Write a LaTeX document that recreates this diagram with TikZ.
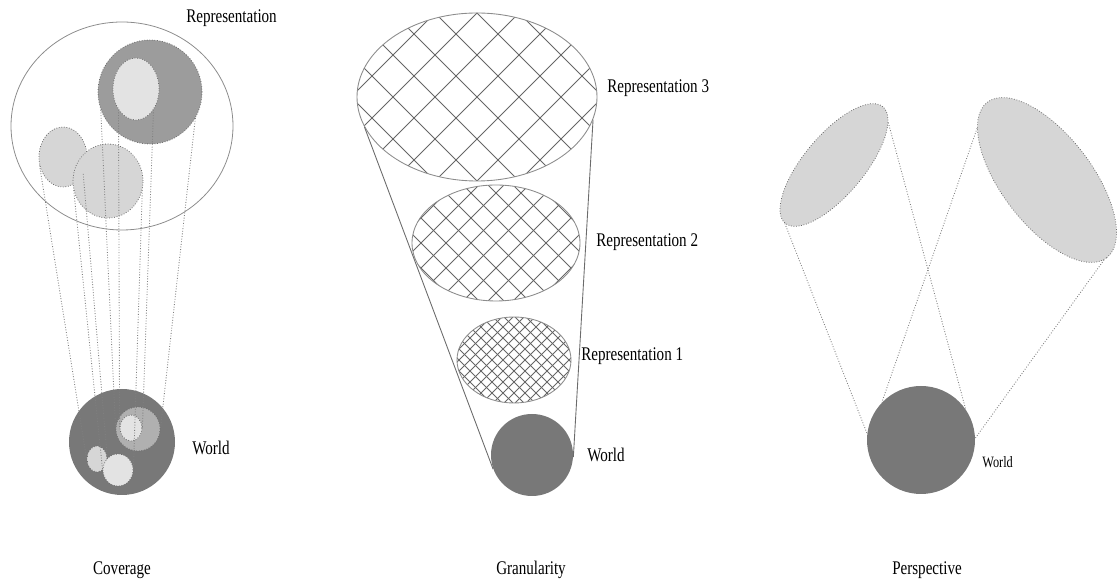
\documentclass[tikz,border=0pt]{standalone}
\usepackage{fontspec}
\setmainfont{Liberation Serif}
\usepackage{graphicx}
\usetikzlibrary{shapes.geometric}
\newlength\px \setlength\px{0.02cm}
\newcommand{\cond}[1]{\scalebox{0.78}[1]{#1}}
\definecolor{edgegray}{gray}{0.42}
\definecolor{rimgray}{gray}{0.55}
\definecolor{linkgray}{gray}{0.5}
\definecolor{hatchgray}{gray}{0.4}
\definecolor{worldfill}{gray}{0.47}
\definecolor{darkfill}{gray}{0.61}
\definecolor{ringfill}{gray}{0.69}
\definecolor{lightfill}{gray}{0.84}
\definecolor{palefill}{gray}{0.89}
\begin{document}
\begin{tikzpicture}[x=0.02cm, y=0.02cm,
  blob/.style={ellipse, inner sep=0pt, draw=edgegray, densely dotted, line width=0.45pt},
  gblob/.style={ellipse, inner sep=0pt, draw=rimgray, line width=0.5pt},
  link/.style={draw=linkgray, densely dotted, line width=0.5pt},
  cone/.style={draw=edgegray, line width=0.5pt},
  lbl/.style={font=\fontsize{11}{13}\selectfont, inner sep=0pt},
  hatchline/.style={draw=hatchgray, solid, line width=0.5pt},
  crosshatch/.style={path picture={
    \foreach \k in {-12,...,12} {
      \draw[hatchline] ([shift={(\k*#1,0)}]path picture bounding box.center) ++(-150,-150) -- ++(300,300);
      \draw[hatchline] ([shift={(\k*#1,0)}]path picture bounding box.center) ++(-150,150) -- ++(300,-300);
    }}}]
  \useasboundingbox (0,0) rectangle (1117,581);
  % coverage: representation
  \node[blob, solid, draw=rimgray, minimum width=222\px, minimum height=208\px] (covRep) at (122,455) {};
  \node[blob, fill=darkfill, minimum width=104\px, minimum height=104\px] (covDark) at (150,489) {};
  \node[blob, fill=palefill, minimum width=46\px, minimum height=62\px] (covInner) at (136,492) {};
  \node[blob, fill=lightfill, minimum width=48\px, minimum height=60\px] (covLeft) at (63,424) {};
  \node[blob, fill=lightfill, minimum width=70\px, minimum height=74\px] (covMid) at (108,400) {};
  % coverage: world
  \node[blob, draw=none, fill=worldfill, minimum width=106\px, minimum height=106\px] (covWorld) at (122,139) {};
  \node[blob, fill=ringfill, minimum width=44\px, minimum height=44\px] (wRing) at (138,152) {};
  \node[blob, fill=palefill, minimum width=22\px, minimum height=26\px] (wInner) at (131,153) {};
  \node[blob, fill=lightfill, minimum width=20\px, minimum height=26\px] (wLeft) at (97,122) {};
  \node[blob, fill=palefill, minimum width=30\px, minimum height=32\px] (wMid) at (118,111) {};
  \foreach \a/\b/\p/\q in {covLeft/wLeft/200/180, covLeft/wLeft/320/0, covMid/wMid/195/180, covMid/wMid/345/0,
                           covDark/wRing/200/180, covDark/wRing/330/0, covInner/wInner/230/180, covInner/wInner/310/0}
    {\draw[link] (\a.\p) -- (\b.\q);}
  \node[lbl, anchor=west] (covRepLbl) at (186,563) {\cond{Representation}};
  \node[lbl, anchor=west] (covWorldLbl) at (192,133) {\cond{World}};
  \node[lbl] (covTitle) at (122,11) {\cond{Coverage}};
  % granularity
  \node[gblob, crosshatch=42, minimum width=240\px, minimum height=168\px] (gRep3) at (477,484) {};
  \node[gblob, crosshatch=25, minimum width=168\px, minimum height=116\px] (gRep2) at (496,338) {};
  \node[gblob, crosshatch=11, minimum width=114\px, minimum height=86\px] (gRep1) at (514,221) {};
  \node[blob, draw=none, fill=worldfill, minimum width=82\px, minimum height=82\px] (gWorld) at (532,126) {};
  \draw[cone] (gRep3.195) -- (gWorld.200);
  \draw[cone] (gRep3.349) -- (gWorld.357);
  \node[lbl, anchor=west] (gRep3Lbl) at (607,493) {\cond{Representation 3}};
  \node[lbl, anchor=west] (gRep2Lbl) at (596,339) {\cond{Representation 2}};
  \node[lbl, anchor=west] (gRep1Lbl) at (581,225) {\cond{Representation 1}};
  \node[lbl, anchor=west] (gWorldLbl) at (587,126) {\cond{World}};
  \node[lbl] (gTitle) at (531,11) {\cond{Granularity}};
  % perspective
  \node[blob, fill=lightfill, rotate=50, minimum width=152\px, minimum height=60\px] (pLeft) at (834,416) {};
  \node[blob, fill=lightfill, rotate=-52.5, minimum width=196\px, minimum height=90\px] (pRight) at (1047,401) {};
  \node[blob, draw=none, fill=worldfill, minimum width=108\px, minimum height=108\px] (pWorld) at (921,141) {};
  \foreach \a/\p/\q in {pLeft/180/173, pLeft/348/35, pRight/196/136, pRight/358/2}
    {\draw[link] (\a.\p) -- (pWorld.\q);}
  \node[lbl, anchor=west, font=\fontsize{9}{11}\selectfont] (pWorldLbl) at (982,119) {\cond{World}};
  \node[lbl] (pTitle) at (927,11) {\cond{Perspective}};
\end{tikzpicture}
\end{document}
